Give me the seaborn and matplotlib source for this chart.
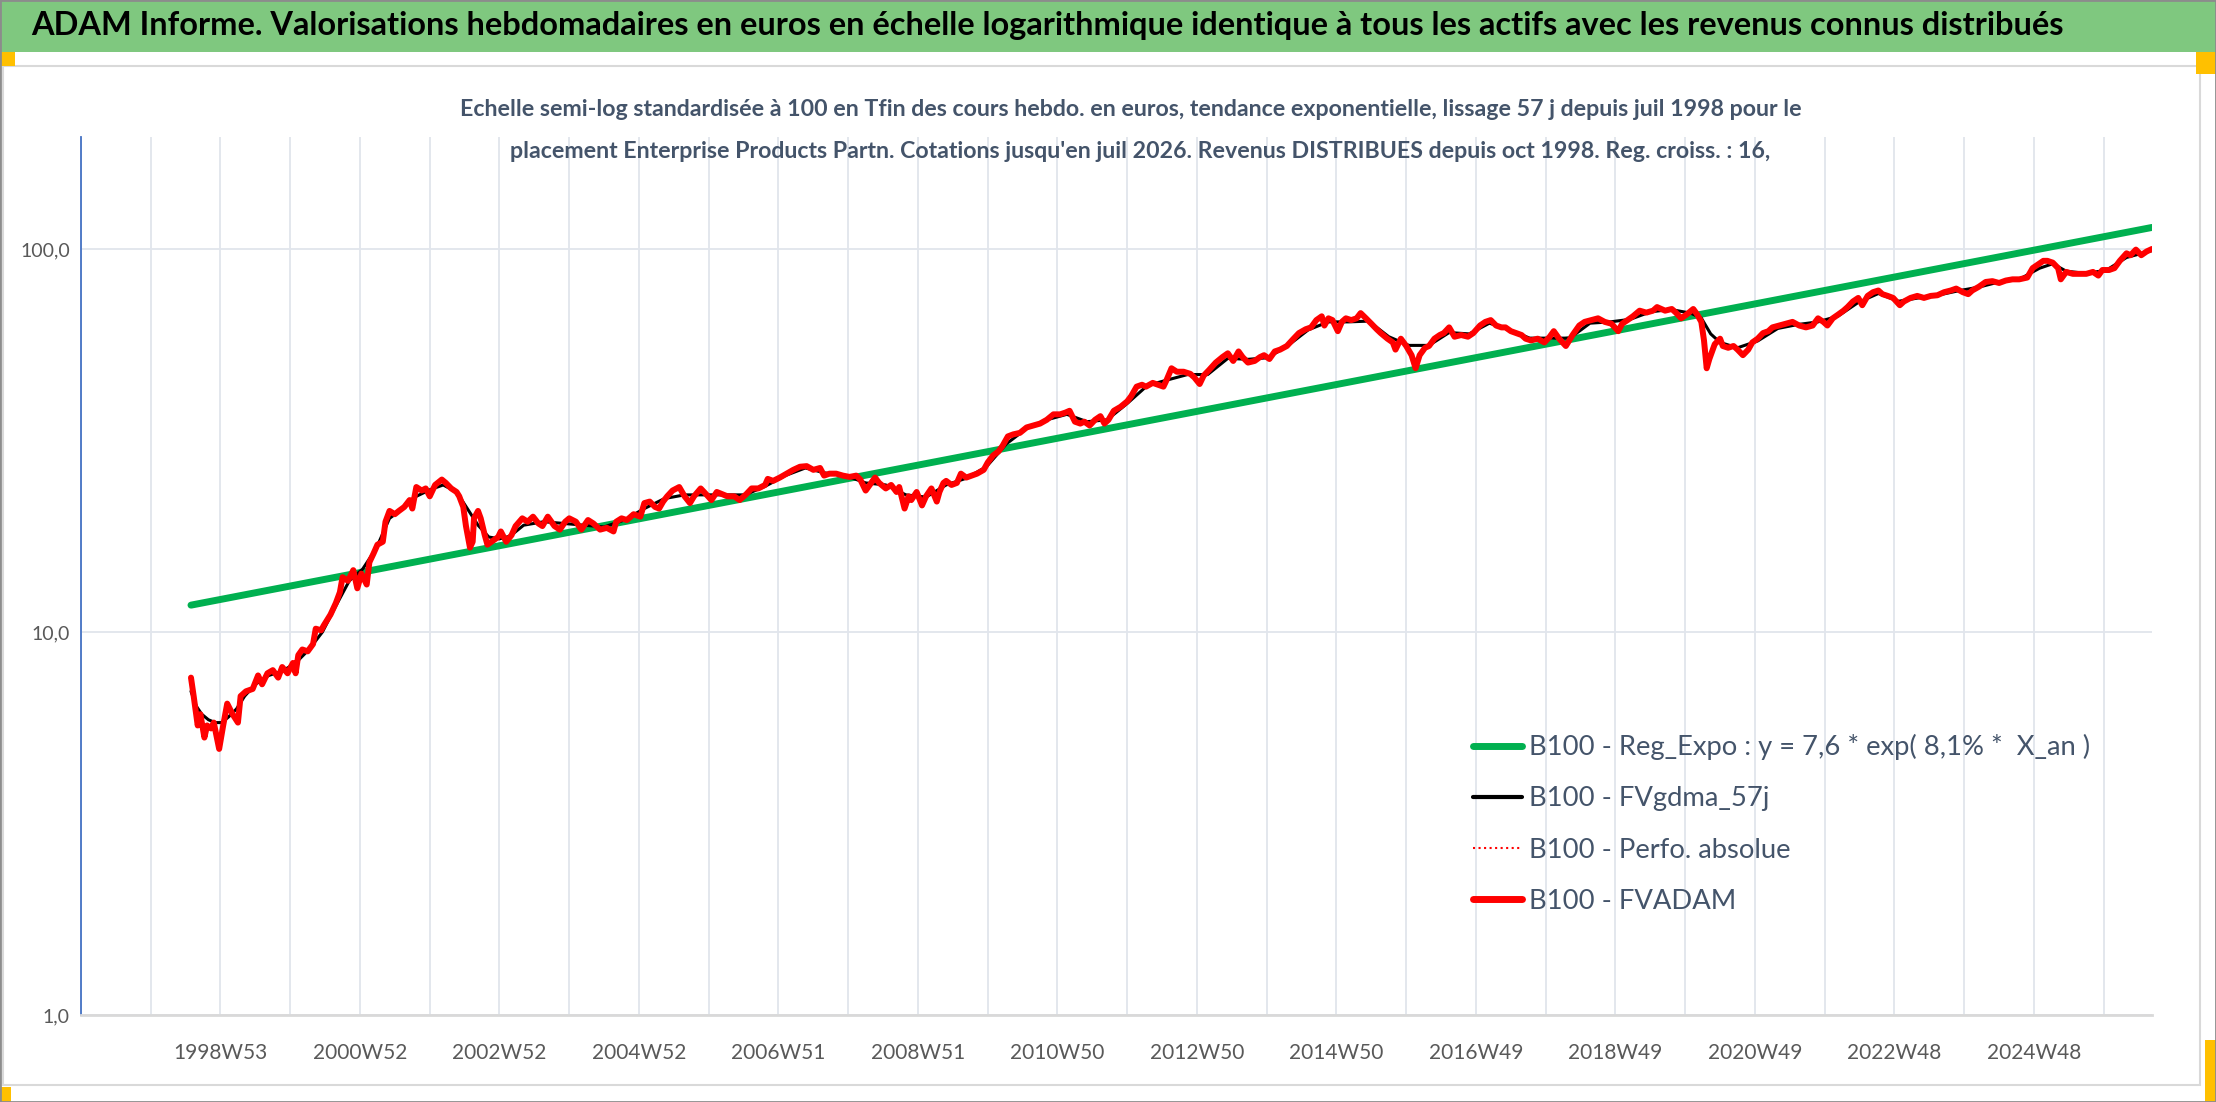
import numpy as np
import pandas as pd
import matplotlib
matplotlib.use('Agg')
import matplotlib.pyplot as plt
import seaborn as sns
from matplotlib.lines import Line2D
from matplotlib.patches import Rectangle
from matplotlib.ticker import FixedLocator, NullLocator, FixedFormatter

# ---- data (x = week index on the category axis) ----
title = ("ADAM Informe. Valorisations hebdomadaires en euros en échelle logarithmique "
         "identique à tous les actifs avec les revenus connus distribués")
subtitle_1 = ("Echelle semi-log standardisée à 100 en Tfin des cours hebdo. en euros, "
              "tendance exponentielle, lissage 57 j depuis juil 1998 pour le")
subtitle_2 = ("placement Enterprise Products Partn. Cotations jusqu'en juil 2026. "
              "Revenus DISTRIBUES depuis oct 1998. Reg. croiss. : 16,")

week_labels = ["1998W53", "2000W52", "2002W52", "2004W52", "2006W51", "2008W51",
               "2010W50", "2012W50", "2014W50", "2016W49", "2018W49", "2020W49",
               "2022W48", "2024W48"]
label_weeks = [104, 208, 312, 416, 520, 624, 728, 832, 936, 1040, 1144, 1248, 1352, 1456]
grid_weeks = [0, 52, 156, 260, 364, 468, 572, 676, 780, 884, 988, 1092, 1196, 1300,
              1404, 1508]
n_weeks = 1544

legend_labels = ["B100 - Reg_Expo : y = 7,6 * exp( 8,1% *  X_an )",
                 "B100 - FVgdma_57j",
                 "B100 - Perfo. absolue",
                 "B100 - FVADAM"]

reg_week = [82, 1544]
reg_value = [11.75, 113.8]

fvadam_week = [
    82, 84, 87, 89, 92, 94, 97, 99, 103, 106,
    109, 113, 117, 119, 123, 128, 132, 135, 139, 143,
    147, 150, 154, 158, 160, 162, 165, 169, 173, 175,
    179, 181, 186, 190, 193, 195, 199, 203, 206, 209,
    213, 215, 218, 221, 225, 227, 230, 234, 237, 241,
    245, 247, 250, 254, 257, 260, 264, 269, 272, 276,
    280, 282, 285, 287, 290, 292, 293, 296, 298, 301,
    303, 307, 311, 313, 317, 321, 324, 329, 333, 337,
    341, 344, 348, 353, 357, 361, 364, 369, 373, 378,
    382, 387, 392, 397, 399, 403, 407, 412, 417, 420,
    424, 428, 431, 434, 437, 441, 446, 450, 454, 457,
    462, 466, 470, 474, 478, 482, 487, 491, 496, 500,
    505, 510, 512, 516, 521, 526, 531, 536, 541, 546,
    551, 554, 558, 563, 568, 573, 578, 581, 585, 588,
    592, 595, 600, 604, 608, 610, 614, 617, 619, 623,
    627, 630, 634, 638, 640, 643, 645, 649, 653, 656,
    660, 664, 668, 673, 676, 680, 684, 687, 691, 695,
    700, 705, 710, 715, 720, 725, 730, 734, 737, 741,
    745, 748, 752, 756, 760, 763, 766, 770, 775, 780,
    783, 787, 791, 794, 799, 803, 807, 809, 813, 817,
    822, 827, 830, 834, 837, 841, 846, 851, 855, 859,
    863, 866, 870, 875, 879, 882, 886, 890, 894, 899,
    904, 908, 913, 917, 921, 925, 927, 930, 933, 937,
    940, 943, 947, 951, 954, 958, 962, 966, 969, 974,
    978, 980, 984, 988, 992, 995, 998, 1002, 1005, 1009,
    1013, 1016, 1020, 1024, 1029, 1034, 1038, 1043, 1047, 1051,
    1055, 1059, 1062, 1066, 1070, 1074, 1077, 1081, 1086, 1091,
    1095, 1098, 1102, 1107, 1112, 1117, 1121, 1126, 1131, 1136,
    1141, 1146, 1149, 1153, 1157, 1162, 1167, 1172, 1175, 1181,
    1186, 1189, 1193, 1197, 1202, 1205, 1208, 1210, 1212, 1214,
    1218, 1222, 1224, 1228, 1232, 1235, 1239, 1243, 1246, 1250,
    1254, 1258, 1261, 1266, 1271, 1276, 1281, 1286, 1291, 1295,
    1299, 1302, 1306, 1310, 1314, 1317, 1321, 1325, 1328, 1332,
    1336, 1340, 1343, 1347, 1351, 1356, 1359, 1364, 1369, 1374,
    1379, 1384, 1389, 1394, 1398, 1403, 1407, 1410, 1415, 1420,
    1425, 1430, 1435, 1440, 1445, 1451, 1455, 1459, 1463, 1466,
    1470, 1474, 1476, 1480, 1485, 1490, 1495, 1500, 1504, 1507,
    1512, 1516, 1520, 1525, 1528, 1532, 1536, 1540, 1544,
]
fvadam_value = [
    7.6, 6.8, 5.7, 6.1, 5.3, 5.7, 5.6, 5.8, 4.95, 5.7,
    6.5, 6.1, 5.8, 6.8, 7.0, 7.1, 7.7, 7.3, 7.8, 7.95,
    7.6, 8.1, 7.8, 8.3, 7.8, 8.7, 9.0, 8.9, 9.3, 10.2,
    10.1, 10.4, 11.1, 11.9, 12.7, 13.9, 13.6, 14.5, 13.0, 14.2,
    13.3, 15.2, 16.0, 16.9, 17.2, 19.4, 20.7, 20.3, 20.7, 21.2,
    22.1, 21.0, 23.9, 23.4, 23.7, 22.6, 24.2, 25.0, 24.5, 23.7,
    23.2, 22.6, 21.2, 18.9, 16.6, 17.2, 19.8, 20.7, 19.8, 17.9,
    16.9, 17.3, 17.7, 18.3, 17.2, 17.9, 18.9, 19.8, 19.4, 20.0,
    19.2, 18.9, 20.0, 18.9, 18.5, 19.4, 19.8, 19.4, 18.5, 19.6,
    19.2, 18.5, 18.7, 18.3, 19.4, 19.8, 19.6, 20.3, 20.0, 21.7,
    21.9, 21.2, 21.0, 21.9, 22.6, 23.4, 23.9, 22.6, 21.7, 22.6,
    23.7, 22.9, 22.1, 23.2, 22.9, 22.6, 22.6, 22.1, 22.9, 23.7,
    23.7, 24.2, 25.1, 24.8, 25.3, 25.9, 26.5, 27.0, 27.1, 26.5,
    26.8, 25.6, 25.9, 25.9, 25.6, 25.4, 25.6, 25.0, 23.4, 24.2,
    25.3, 24.5, 23.7, 24.2, 23.2, 23.9, 21.0, 22.6, 22.1, 23.2,
    21.4, 22.6, 23.7, 21.9, 23.2, 24.5, 24.8, 24.2, 24.5, 25.9,
    25.3, 25.6, 25.9, 26.5, 27.7, 28.9, 29.6, 30.6, 32.4, 32.8,
    33.1, 34.2, 34.6, 35.0, 35.8, 37.0, 37.0, 37.4, 37.8, 35.4,
    35.0, 35.4, 34.6, 35.8, 36.6, 35.0, 35.8, 37.8, 38.7, 40.0,
    41.3, 43.7, 44.2, 43.7, 44.7, 44.2, 43.7, 45.2, 48.8, 47.8,
    47.8, 47.2, 46.2, 44.4, 46.7, 48.3, 50.5, 52.2, 53.4, 51.0,
    54.0, 52.2, 50.5, 51.0, 52.2, 52.8, 51.6, 54.0, 54.6, 55.8,
    58.3, 60.3, 61.7, 62.4, 65.2, 66.7, 63.1, 65.9, 65.2, 61.0,
    64.5, 65.9, 65.2, 65.9, 68.0, 65.9, 63.8, 61.7, 60.3, 58.3,
    57.0, 54.6, 58.3, 55.8, 52.8, 48.8, 52.8, 55.2, 55.8, 58.3,
    59.6, 60.3, 62.4, 59.0, 59.6, 59.0, 60.3, 63.1, 64.5, 65.2,
    63.1, 62.4, 62.4, 61.0, 60.3, 59.6, 58.3, 57.7, 58.3, 57.0,
    59.0, 61.0, 58.3, 55.8, 59.6, 63.1, 64.5, 65.2, 65.9, 64.5,
    63.8, 61.0, 63.8, 65.2, 66.7, 69.0, 68.2, 69.0, 70.5, 69.0,
    69.7, 68.2, 65.9, 67.4, 69.7, 67.4, 64.5, 57.7, 48.8, 51.6,
    56.4, 58.3, 55.8, 55.2, 55.8, 54.6, 52.8, 54.6, 57.0, 58.3,
    60.3, 61.0, 62.4, 63.1, 63.8, 64.5, 63.1, 62.4, 63.1, 65.9,
    64.5, 63.1, 65.9, 67.4, 69.0, 70.5, 72.9, 74.5, 71.3, 75.4,
    77.1, 77.9, 76.2, 75.4, 74.5, 71.3, 72.9, 74.5, 75.4, 74.5,
    75.4, 75.7, 77.1, 77.9, 78.8, 77.1, 76.2, 77.9, 79.7, 82.0,
    82.4, 81.5, 82.7, 83.3, 83.3, 84.2, 89.1, 91.1, 93.1, 93.1,
    92.1, 89.1, 83.3, 87.1, 86.1, 86.1, 86.1, 87.1, 85.2, 88.1,
    88.1, 89.1, 93.1, 97.4, 96.3, 99.6, 96.3, 98.5, 100.0,
]

smooth_week = [
    82, 86, 90, 95, 100, 105, 110, 116, 122, 130,
    140, 150, 160, 170, 180, 190, 200, 210, 220, 230,
    240, 250, 260, 270, 280, 288, 296, 304, 312, 320,
    330, 345, 360, 375, 390, 405, 420, 435, 450, 465,
    480, 495, 510, 525, 540, 555, 570, 585, 600, 615,
    630, 645, 660, 675, 690, 705, 720, 735, 750, 765,
    780, 795, 810, 825, 840, 855, 870, 885, 900, 915,
    930, 945, 960, 975, 990, 1005, 1020, 1035, 1050, 1065,
    1080, 1095, 1110, 1125, 1140, 1155, 1170, 1185, 1200, 1208,
    1215, 1222, 1235, 1250, 1265, 1280, 1295, 1310, 1325, 1340,
    1355, 1370, 1385, 1400, 1415, 1430, 1445, 1460, 1470, 1480,
    1495, 1510, 1525, 1544,
]
smooth_value = [
    7.0, 6.4, 6.1, 5.9, 5.8, 5.8, 6.0, 6.3, 6.8, 7.3,
    7.7, 7.9, 8.3, 9.0, 10.0, 11.7, 13.6, 14.6, 16.5, 19.8,
    21.0, 22.6, 23.5, 24.2, 23.2, 21.0, 19.0, 17.7, 17.5, 17.8,
    19.0, 19.4, 19.2, 19.0, 18.8, 19.6, 21.0, 22.3, 22.8, 22.8,
    22.8, 22.8, 24.0, 25.6, 26.8, 26.0, 25.6, 24.5, 24.2, 22.8,
    22.5, 24.2, 25.2, 27.0, 31.0, 34.0, 35.8, 37.0, 35.4, 35.8,
    39.5, 44.0, 45.5, 47.0, 47.0, 51.8, 51.5, 52.0, 56.0, 61.5,
    64.5, 64.5, 64.8, 59.0, 56.0, 56.0, 60.5, 60.0, 64.0, 61.5,
    58.5, 58.5, 58.5, 64.0, 64.5, 65.5, 68.5, 69.5, 68.0, 66.0,
    60.0, 57.0, 55.2, 57.5, 62.0, 63.5, 64.5, 66.8, 72.5, 76.5,
    73.0, 74.5, 75.8, 77.8, 79.5, 82.0, 83.3, 89.0, 91.5, 87.5,
    86.3, 88.0, 95.0, 99.0,
]

assert len(fvadam_week) == len(fvadam_value)
assert len(smooth_week) == len(smooth_value)

fvadam = pd.DataFrame({"week": fvadam_week, "value": fvadam_value})
smooth = pd.DataFrame({"week": smooth_week, "value": smooth_value})
reg = pd.DataFrame({"week": reg_week, "value": reg_value})

# ---- figure ----
sns.set_style("white")
plt.rcParams['font.family'] = ['Lato', 'DejaVu Sans']

W, H = 2216, 1102
def fx(px):
    return px / W
def fy(py):
    return 1 - py / H

fig = plt.figure(figsize=(W / 100, H / 100), dpi=100)
fig.patch.set_facecolor('white')

# header bar and frame
fig.add_artist(Rectangle((0, fy(52)), 1, 52 / H, transform=fig.transFigure,
                         facecolor='#7FC87F', edgecolor='none', zorder=-2))
fig.add_artist(Rectangle((fx(3), fy(1085)), fx(2200) - fx(3), (1085 - 66) / H,
                         transform=fig.transFigure, facecolor='none',
                         edgecolor='#D9D9D9', lw=1.5, zorder=-1))
for (x0, y0, x1, y1) in [(0, 52, 15, 66), (2196, 52, 2216, 74),
                         (0, 1087, 11, 1102), (2205, 1040, 2216, 1102)]:
    fig.add_artist(Rectangle((fx(x0), fy(y1)), fx(x1) - fx(x0), (y1 - y0) / H,
                             transform=fig.transFigure, facecolor='#FFC000',
                             edgecolor='none', zorder=5))
fig.add_artist(Rectangle((0, 0), 1, 1, transform=fig.transFigure, facecolor='none',
                         edgecolor='#8C8C8C', lw=2, zorder=6))

ax = fig.add_axes([fx(81), fy(1015), fx(2152) - fx(81), (1015 - 137) / H])
ax.set_facecolor('white')

sns.lineplot(data=reg, x="week", y="value", ax=ax, color='#00B050', linewidth=5.0,
             solid_capstyle='round', zorder=3)
sns.lineplot(data=smooth, x="week", y="value", ax=ax, color='black', linewidth=2.2,
             zorder=4)
sns.lineplot(data=fvadam, x="week", y="value", ax=ax, color='#FF0000', linewidth=1.2,
             linestyle=':', zorder=4)
sns.lineplot(data=fvadam, x="week", y="value", ax=ax, color='#FF0000', linewidth=4.3,
             solid_joinstyle='round', zorder=5)

ax.set_yscale('log')
ax.set_ylim(1, 196)
ax.set_xlim(0, n_weeks)
ax.yaxis.set_major_locator(FixedLocator([1, 10, 100]))
ax.yaxis.set_major_formatter(FixedFormatter(['1,0', '10,0', '100,0']))
ax.yaxis.set_minor_locator(NullLocator())
ax.xaxis.set_major_locator(FixedLocator(label_weeks))
ax.xaxis.set_major_formatter(FixedFormatter(week_labels))
ax.xaxis.set_minor_locator(FixedLocator(grid_weeks))
ax.set_xlabel('')
ax.set_ylabel('')

ax.grid(True, which='both', axis='x', color='#E1E5EC', lw=1.3, zorder=0)
ax.grid(True, which='major', axis='y', color='#E1E5EC', lw=1.3, zorder=0)
ax.set_axisbelow(True)

ax.tick_params(axis='x', which='both', direction='out', length=6, width=1.3,
               color='#D9D9D9', labelsize=15, labelcolor='#595959', pad=14)
ax.tick_params(axis='y', which='both', length=0, labelsize=14,
               labelcolor='#595959', pad=8)
for s in ['top', 'right']:
    ax.spines[s].set_visible(False)
ax.spines['left'].set_color('#4472C4')
ax.spines['left'].set_linewidth(1.3)
ax.spines['bottom'].set_color('#D9D9D9')
ax.spines['bottom'].set_linewidth(2)

# legend
handles = [Line2D([], [], color='#00B050', lw=5, solid_capstyle='round'),
           Line2D([], [], color='black', lw=3),
           Line2D([], [], color='#FF0000', lw=1.5, ls=':'),
           Line2D([], [], color='#FF0000', lw=5, solid_capstyle='round')]
fig.legend(handles, legend_labels, loc='upper left',
           bbox_to_anchor=(fx(1473), fy(734)), frameon=False, fontsize=19.7,
           handlelength=1.8, handletextpad=0.25, labelspacing=0.96, borderpad=0,
           borderaxespad=0, labelcolor='#44546A')

# titles
t = fig.text(fx(1047), fy(26), title, ha='center', va='center', fontsize=24,
             weight='bold', color='black')
s1 = fig.text(fx(1131), fy(110), subtitle_1, ha='center', va='center', fontsize=15,
              weight='bold', color='#44546A')
s2 = fig.text(fx(1140), fy(151), subtitle_2, ha='center', va='center', fontsize=15,
              weight='bold', color='#44546A')

# size the header texts to the widths they take in the reference
renderer = fig.canvas.get_renderer()
w = t.get_window_extent(renderer=renderer).width
t.set_fontsize(t.get_fontsize() * 2032 / w)
w = s1.get_window_extent(renderer=renderer).width
size = s1.get_fontsize() * 1343 / w
s1.set_fontsize(size)
s2.set_fontsize(size)

fig.savefig('out.png', dpi=100)
